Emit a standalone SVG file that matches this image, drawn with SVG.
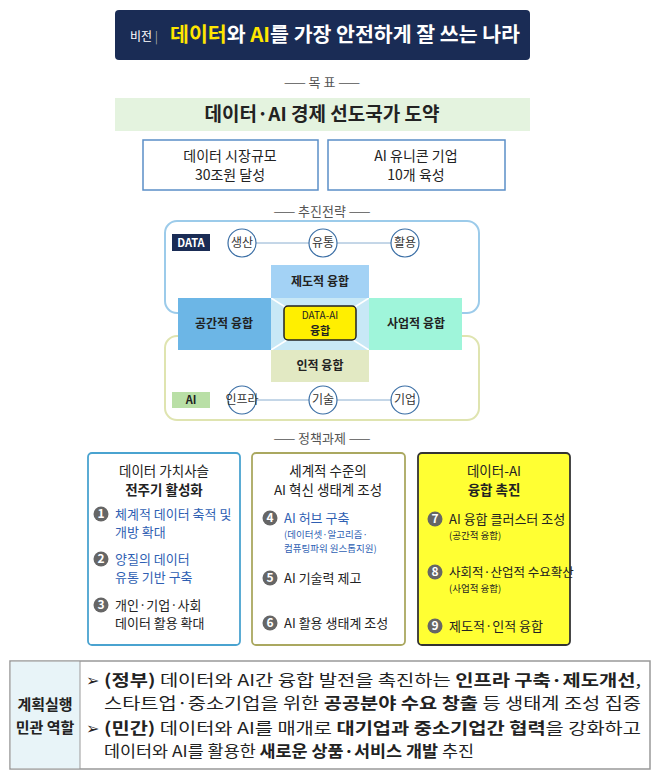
<svg xmlns="http://www.w3.org/2000/svg" width="658" height="776" viewBox="0 0 658 776">
<style>
text{font-family:"Noto Sans CJK KR","Noto Sans",sans-serif;fill:#222}
.b{font-weight:bold}
.c{text-anchor:middle}
.sec{font-size:13px;fill:#555;text-anchor:middle}
.cir{fill:#fff;stroke:#3a6ea5;stroke-width:1.2}
.ct{font-size:12px;text-anchor:middle;fill:#333}
.num{fill:#666}
.nt{font-size:12px;fill:#fff;font-weight:bold;text-anchor:middle}
.it{font-size:13px}
.blue{fill:#2f5fb3}
.tb{font-size:16px}
</style>
<rect width="658" height="776" fill="#fff"/>
<g id="vision">
<rect x="115" y="10" width="415" height="50" rx="4" fill="#1a2c55"/>
<text x="130" y="41" font-size="12" style="fill:#fff">비전 <tspan style="fill:#aaa">|</tspan></text>
<text x="170" y="42" font-size="20" class="b" textLength="350" lengthAdjust="spacingAndGlyphs"><tspan style="fill:#ffe600">데이터</tspan><tspan style="fill:#fff">와 </tspan><tspan style="fill:#ffe600">AI</tspan><tspan style="fill:#fff">를 가장 안전하게 잘 쓰는 나라</tspan></text>
</g>
<text x="322" y="87" class="sec">—— 목 표 ——</text>
<g id="goal">
<rect x="115" y="98" width="415" height="33" fill="#e4f3df"/>
<text x="322" y="121" class="c b" font-size="19">데이터·AI 경제 선도국가 도약</text>
</g>
<g id="goal1"><rect x="143" y="140" width="175" height="50" fill="#fff" stroke="#5b8fc7" stroke-width="1.5"/>
<text x="230" y="161" class="c" font-size="14">데이터 시장규모</text><text x="230" y="180" class="c" font-size="14">30조원 달성</text></g>
<g id="goal2"><rect x="328" y="140" width="177" height="50" fill="#fff" stroke="#5b8fc7" stroke-width="1.5"/>
<text x="416" y="161" class="c" font-size="14">AI 유니콘 기업</text><text x="416" y="180" class="c" font-size="14">10개 육성</text></g>
<text x="322" y="216" class="sec">—— 추진전략 ——</text>
<g id="data-box">
<rect x="165" y="221" width="314" height="92" rx="12" fill="#fff" stroke="#9ccbea" stroke-width="2"/>
<rect x="172" y="234" width="38" height="17" fill="#1a2c55"/>
<text x="191" y="247" class="c b" font-size="11" style="fill:#fff">DATA</text>
</g>
<g id="ai-box">
<rect x="165" y="336" width="314" height="84" rx="12" fill="#fff" stroke="#dfe4b0" stroke-width="2"/>
<rect x="172" y="392" width="38" height="16" fill="#b9dfa6"/>
<text x="191" y="404" class="c b" font-size="11">AI</text>
</g>
<g id="connectors" stroke="#8aaed0" stroke-width="1">
<line x1="256" y1="243" x2="309" y2="243"/><line x1="337" y1="243" x2="391" y2="243"/>
<line x1="256" y1="400" x2="309" y2="400"/><line x1="337" y1="400" x2="391" y2="400"/>
</g>
<g id="c-saengsan"><circle cx="242" cy="243" r="14" class="cir"/><text x="242" y="247" class="ct">생산</text></g>
<g id="c-yutong"><circle cx="323" cy="243" r="14" class="cir"/><text x="323" y="247" class="ct">유통</text></g>
<g id="c-hwaryong"><circle cx="405" cy="243" r="14" class="cir"/><text x="405" y="247" class="ct">활용</text></g>
<g id="c-infra"><circle cx="242" cy="400" r="14" class="cir"/><text x="242" y="404" class="ct" font-size="11">인프라</text></g>
<g id="c-gisul"><circle cx="323" cy="400" r="14" class="cir"/><text x="323" y="404" class="ct">기술</text></g>
<g id="c-gieop"><circle cx="405" cy="400" r="14" class="cir"/><text x="405" y="404" class="ct">기업</text></g>
<g id="cross">
<rect x="271" y="298" width="98" height="52" fill="#c8e8f6"/>
<g stroke="#fff" stroke-width="1.5"><line x1="271" y1="298" x2="290" y2="310"/><line x1="369" y1="298" x2="350" y2="310"/><line x1="271" y1="350" x2="290" y2="338"/><line x1="369" y1="350" x2="350" y2="338"/></g>
<rect x="271" y="265" width="98" height="33" fill="#a3d2f5"/>
<text x="320" y="286" class="c b" font-size="12">제도적 융합</text>
<rect x="178" y="298" width="93" height="52" fill="#6cb6e6"/>
<text x="224" y="328" class="c b" font-size="12">공간적 융합</text>
<rect x="369" y="298" width="93" height="52" fill="#9ff5da"/>
<text x="416" y="328" class="c b" font-size="12">사업적 융합</text>
<rect x="271" y="350" width="98" height="32" fill="#e2e9c3"/>
<text x="320" y="370" class="c b" font-size="12">인적 융합</text>
<rect x="284" y="306" width="72" height="34" rx="4" fill="#ffef00" stroke="#222" stroke-width="1.5"/>
<text x="320" y="319" class="c" font-size="10">DATA-AI</text><text x="320" y="335" class="c b" font-size="11">융합</text>
</g>
<text x="322" y="443" class="sec">—— 정책과제 ——</text>
<g id="task1">
<rect x="88" y="453" width="152" height="192" rx="4" fill="#fff" stroke="#4aa3d0" stroke-width="1.8"/>
<text x="164" y="476" class="c" font-size="13.5">데이터 가치사슬</text><text x="164" y="495" class="c b" font-size="13.5">전주기 활성화</text>
<circle cx="101" cy="514" r="7.5" class="num"/><text x="101" y="518" class="nt">1</text>
<text x="115" y="519" class="it blue">체계적 데이터 축적 및</text><text x="115" y="537" class="it blue">개방 확대</text>
<circle cx="101" cy="559" r="7.5" class="num"/><text x="101" y="563" class="nt">2</text>
<text x="115" y="564" class="it blue">양질의 데이터</text><text x="115" y="582" class="it blue">유통 기반 구축</text>
<circle cx="101" cy="605" r="7.5" class="num"/><text x="101" y="609" class="nt">3</text>
<text x="115" y="610" class="it">개인·기업·사회</text><text x="115" y="628" class="it">데이터 활용 확대</text>
</g>
<g id="task2">
<rect x="252" y="453" width="153" height="192" rx="4" fill="#fff" stroke="#aaa860" stroke-width="1.8"/>
<text x="328" y="476" class="c" font-size="13.5">세계적 수준의</text><text x="328" y="495" class="c" font-size="13.5">AI 혁신 생태계 조성</text>
<circle cx="270" cy="518" r="7.5" class="num"/><text x="270" y="522" class="nt">4</text>
<text x="284" y="523" class="it blue">AI 허브 구축</text>
<text x="284" y="538" font-size="9.5" class="blue">(데이터셋·알고리즘·</text><text x="284" y="552" font-size="9.5" class="blue">컴퓨팅파워 원스톱지원)</text>
<circle cx="270" cy="578" r="7.5" class="num"/><text x="270" y="582" class="nt">5</text>
<text x="284" y="583" class="it">AI 기술력 제고</text>
<circle cx="270" cy="623" r="7.5" class="num"/><text x="270" y="627" class="nt">6</text>
<text x="284" y="628" class="it">AI 활용 생태계 조성</text>
</g>
<g id="task3">
<rect x="418" y="453" width="152" height="192" rx="4" fill="#ffff33" stroke="#333" stroke-width="1.8"/>
<text x="494" y="476" class="c" font-size="13.5">데이터-AI</text><text x="494" y="495" class="c b" font-size="13.5">융합 촉진</text>
<circle cx="435" cy="519" r="7.5" class="num"/><text x="435" y="523" class="nt">7</text>
<text x="449" y="524" class="it">AI 융합 클러스터 조성</text><text x="449" y="539" font-size="9.5">(공간적 융합)</text>
<circle cx="435" cy="572" r="7.5" class="num"/><text x="435" y="576" class="nt">8</text>
<text x="449" y="577" font-size="12.5">사회적·산업적 수요확산</text><text x="449" y="592" font-size="9.5">(사업적 융합)</text>
<circle cx="435" cy="626" r="7.5" class="num"/><text x="435" y="630" class="nt">9</text>
<text x="449" y="631" class="it">제도적·인적 융합</text>
</g>
<g id="table">
<rect x="10" y="661" width="640" height="108" fill="#fff" stroke="#999" stroke-width="1.5"/>
<rect x="10.75" y="661.75" width="69" height="106.5" fill="#e8f4f8"/>
<line x1="80" y1="661" x2="80" y2="769" stroke="#999" stroke-width="1"/>
<text x="45" y="710" class="c b" font-size="15">계획실행</text><text x="45" y="733" class="c b" font-size="15">민관 역할</text>
<text x="86" y="686" class="tb">➢</text>
<text x="104" y="686" class="tb" textLength="537" lengthAdjust="spacingAndGlyphs"><tspan class="b">(정부)</tspan> 데이터와 AI간 융합 발전을 촉진하는 <tspan class="b">인프라 구축·제도개선</tspan>,</text>
<text x="104" y="709" class="tb" textLength="537" lengthAdjust="spacingAndGlyphs">스타트업·중소기업을 위한 <tspan class="b">공공분야 수요 창출</tspan> 등 생태계 조성 집중</text>
<text x="86" y="734" class="tb">➢</text>
<text x="104" y="734" class="tb" textLength="537" lengthAdjust="spacingAndGlyphs"><tspan class="b">(민간)</tspan> 데이터와 AI를 매개로 <tspan class="b">대기업과 중소기업간 협력</tspan>을 강화하고</text>
<text x="104" y="757" class="tb" textLength="370" lengthAdjust="spacingAndGlyphs">데이터와 AI를 활용한 <tspan class="b">새로운 상품·서비스 개발</tspan> 추진</text>
</g>
</svg>
